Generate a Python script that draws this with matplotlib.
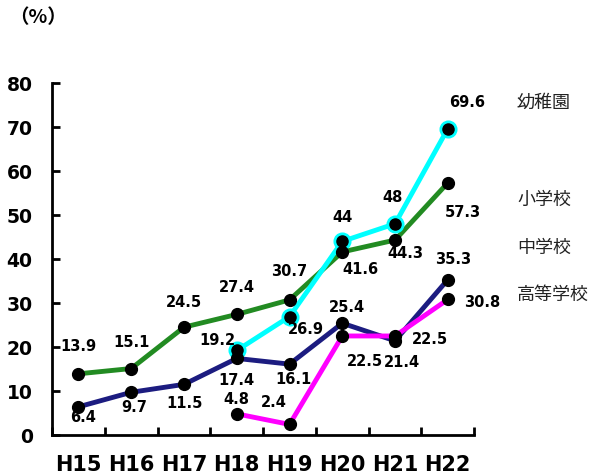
import numpy as np
import matplotlib.pyplot as plt

plt.rcParams['font.family'] = ['DejaVu Sans']

years = ['H15', 'H16', 'H17', 'H18', 'H19', 'H20', 'H21', 'H22']
shougakkou = [13.9, 15.1, 24.5, 27.4, 30.7, 41.6, 44.3, 57.3]
chuugakkou = [6.4, 9.7, 11.5, 17.4, 16.1, 25.4, 21.4, 35.3]
youchien = [19.2, 26.9, 44, 48, 69.6]          # from H18
koutou = [4.8, 2.4, 22.5, 22.5, 30.8]           # from H18
names = ['幼稚園', '小学校', '中学校', '高等学校']

# label offsets (pixels, dx, dy with +dy up)
off_sho = [(0, 28), (0, 27), (0, 26), (0, 28), (0, 29), (18, -17), (10, -12), (15, -29)]
off_chu = [(5, -10), (3, -14), (0, -18), (0, -21), (4, -14), (5, 17), (7, -21), (5, 21)]
off_you = [(-19, 11), (16, -12), (0, 25), (-2, 27), (19, 27)]
off_kou = [(0, 15), (-16, 23), (23, -25), (35, -3), (34, -2)]

fig = plt.figure(figsize=(5.92, 4.77), dpi=100)
ax = fig.add_axes([0.088, 0.086, 0.713, 0.738])

x = np.arange(len(years))
x2 = x[3:]

def series(xs, ys, col, offs, cyan=False):
    ax.plot(xs, ys, color=col, lw=3.5, solid_capstyle='round', zorder=2)
    if cyan:
        ax.plot(xs, ys, 'o', ms=12, color=col, zorder=3)
        ax.plot(xs, ys, 'o', ms=8, color='black', zorder=4)
    else:
        ax.plot(xs, ys, 'o', ms=8.5, color='black', zorder=4)
    for xi, yi, (dx, dy) in zip(xs, ys, offs):
        ax.annotate(f'{yi:g}', (xi, yi), xytext=(dx, dy), textcoords='offset pixels',
                    ha='center', va='center', fontsize=10.5, fontweight='bold', zorder=5)

series(x, shougakkou, '#228b22', off_sho)
series(x, chuugakkou, '#1c1c80', off_chu)
series(x2, koutou, '#ff00ff', off_kou)
series(x2, youchien, '#00ffff', off_you, cyan=True)

ax.set_xlim(-0.5, 7.5)
ax.set_ylim(0, 80)
ax.set_yticks(range(0, 81, 10))
ax.set_xticks(x)
ax.set_xticklabels(years)
ax.set_xticks(np.arange(-0.5, 8, 1), minor=True)
ax.tick_params(axis='x', which='major', length=0, pad=14, labelsize=15)
ax.tick_params(axis='x', which='minor', direction='in', length=6, width=2)
ax.tick_params(axis='y', direction='in', length=6, width=2, pad=14, labelsize=13.5)
for lab in ax.get_xticklabels() + ax.get_yticklabels():
    lab.set_fontweight('bold')
for s in ['top', 'right']:
    ax.spines[s].set_visible(False)
for s in ['left', 'bottom']:
    ax.spines[s].set_linewidth(2)

fig.text(0.015, 0.963, '（%）', fontsize=14, fontweight='bold', va='center',
         family=['Noto Sans CJK JP', 'DejaVu Sans'])
name_y = [103, 200, 248, 295]
for n, py in zip(names, name_y):
    fig.text(517 / 592, 1 - py / 477, n, fontsize=13, va='center', color='#222222',
             family=['Noto Sans CJK JP', 'DejaVu Sans'])

fig.savefig('out.png', dpi=100)
